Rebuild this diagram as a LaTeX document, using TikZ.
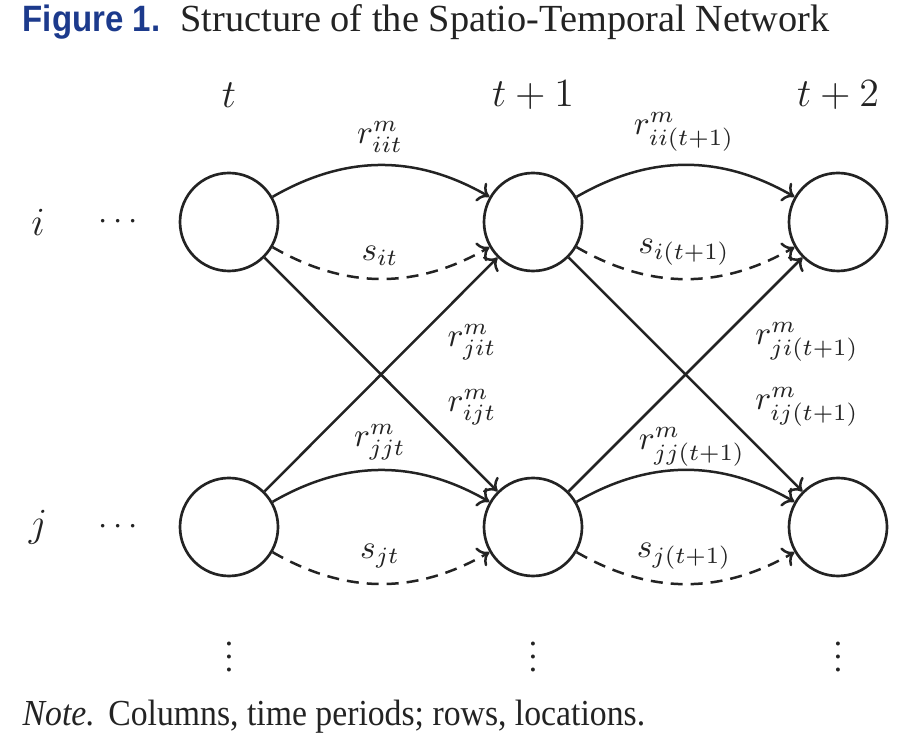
\documentclass[tikz,border=0pt]{standalone}
\usepackage[no-math]{fontspec}
\setmainfont{Liberation Serif}
\newfontfamily\titlesans{Liberation Sans}
\usetikzlibrary{arrows.meta}
\definecolor{titleblue}{RGB}{28,58,140}
\definecolor{ink}{RGB}{35,35,35}
\begin{document}
\begin{tikzpicture}[x=0.3pt,y=-0.3pt,
  st/.style={circle,draw=ink,line width=0.8pt,minimum size=29.4pt,inner sep=0pt},
  arr/.style={draw=ink,line width=0.75pt,-{To[length=3.2pt,width=6.4pt]}},
  dsh/.style={arr,dash pattern=on 3.6pt off 2.4pt},
  lab/.style={inner sep=0pt,text=ink},
  hdr/.style={inner sep=0pt,text=ink,font=\large}]
\useasboundingbox (0,0) rectangle (911,748);
% title
\node[anchor=base west,inner sep=0pt,text=titleblue] (fig) at (22,32)
  {\titlesans\bfseries\fontsize{11}{13}\selectfont\scalebox{0.9}[1]{Figure 1.}};
\node[anchor=base west,inner sep=0pt,text=ink] (title) at (180,32)
  {\fontsize{11.5}{13}\selectfont Structure of the Spatio-Temporal Network};
% headers
\node[hdr] (h0) at (229,95) {$t$};
\node[hdr] (h1) at (533,95) {$t+1$};
\node[hdr] (h2) at (838,95) {$t+2$};
\node[hdr] (ri) at (38,222) {$i$};
\node[hdr] (rj) at (38,527) {$j$};
\node[lab] (ci) at (118,222) {$\cdots$};
\node[lab] (cj) at (118,527) {$\cdots$};
% states
\node[st] (i0) at (229,222) {};
\node[st] (i1) at (533,222) {};
\node[st] (i2) at (838,222) {};
\node[st] (j0) at (229,527) {};
\node[st] (j1) at (533,527) {};
\node[st] (j2) at (838,527) {};
% edges
\draw[arr] (i0) to[bend left=30] (i1);
\draw[dsh] (i0) to[bend right=30] (i1);
\draw[arr] (i1) to[bend left=30] (i2);
\draw[dsh] (i1) to[bend right=30] (i2);
\draw[arr] (j0) to[bend left=30] (j1);
\draw[dsh] (j0) to[bend right=30] (j1);
\draw[arr] (j1) to[bend left=30] (j2);
\draw[dsh] (j1) to[bend right=30] (j2);
\draw[arr] (i0) -- (j1);
\draw[arr] (j0) -- (i1);
\draw[arr] (i1) -- (j2);
\draw[arr] (j1) -- (i2);
% labels
\node[lab] (l1) at (380,137) {$r^m_{iit}$};
\node[lab] (l2) at (380,256) {$s_{it}$};
\node[lab] (l3) at (684,132) {$r^m_{ii(t+1)}$};
\node[lab] (l4) at (684,252) {$s_{i(t+1)}$};
\node[lab] (l5) at (472,342) {$r^m_{jit}$};
\node[lab] (l6) at (472,407) {$r^m_{ijt}$};
\node[lab] (l7) at (807,342) {$r^m_{ji(t+1)}$};
\node[lab] (l8) at (807,407) {$r^m_{ij(t+1)}$};
\node[lab] (l9) at (380,442) {$r^m_{jjt}$};
\node[lab] (l10) at (692,447) {$r^m_{jj(t+1)}$};
\node[lab] (l11) at (380,556) {$s_{jt}$};
\node[lab] (l12) at (684,556) {$s_{j(t+1)}$};
% vdots
\node[lab] (v0) at (229,647) {$\vdots$};
\node[lab] (v1) at (533,647) {$\vdots$};
\node[lab] (v2) at (838,647) {$\vdots$};
% note
\node[anchor=base west,inner sep=0pt,text=ink] (note) at (22,726)
  {\fontsize{11}{13}\selectfont\scalebox{0.92}[1]{\textit{Note.}\hspace{0.4em}Columns, time periods; rows, locations.}};
\end{tikzpicture}
\end{document}
